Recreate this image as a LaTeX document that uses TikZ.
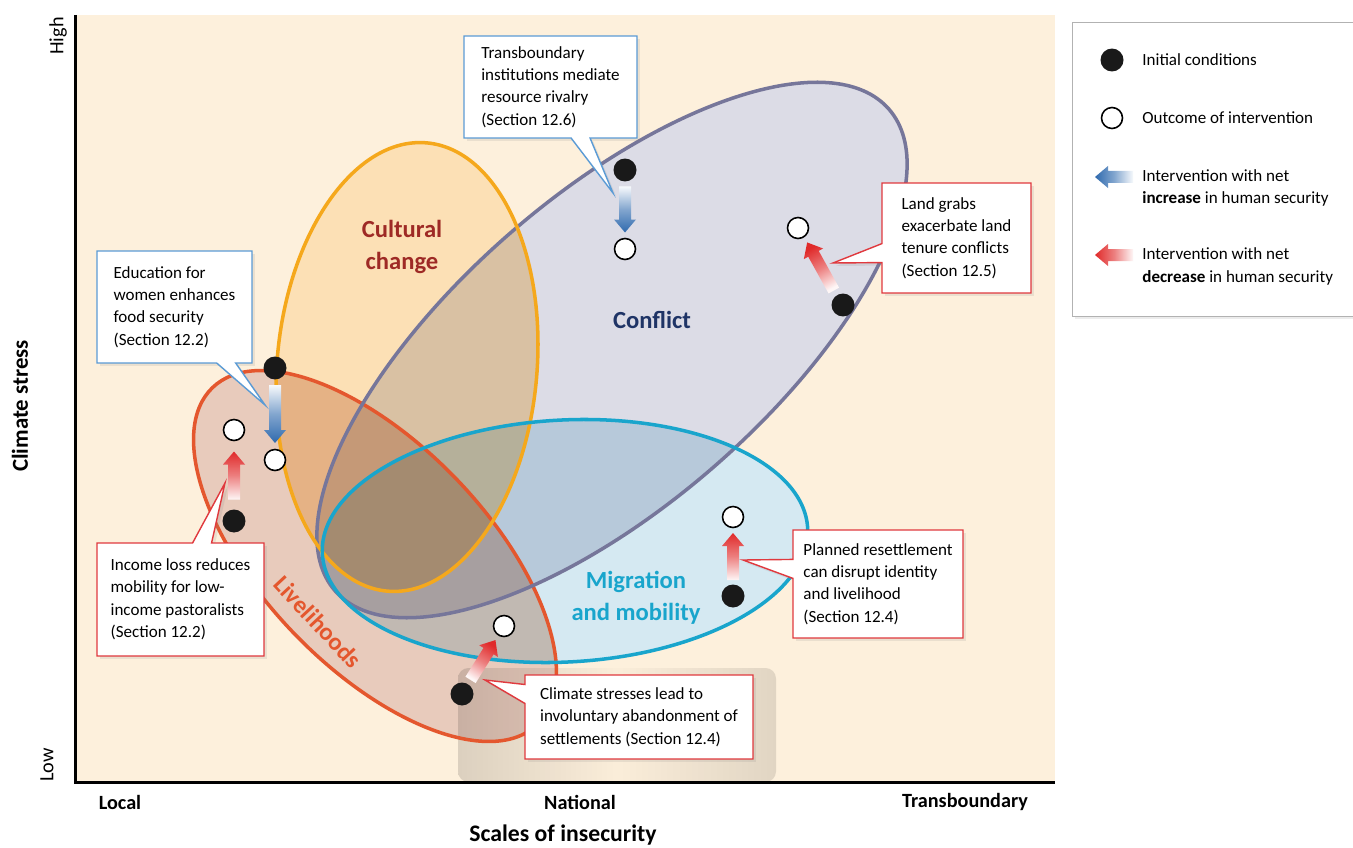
\documentclass[tikz,border=0pt]{standalone}
\usepackage{fontspec}
\setmainfont{Carlito}
\usetikzlibrary{shapes.callouts,shadows,calc}

\definecolor{cream}{HTML}{FDF0DC}
\definecolor{livfill}{HTML}{E8CBBC}
\definecolor{livline}{HTML}{E4572E}
\definecolor{culfill}{HTML}{FCE0B5}
\definecolor{culline}{HTML}{F5A81C}
\definecolor{conffill}{HTML}{DCDCE6}
\definecolor{confline}{HTML}{76769A}
\definecolor{migfill}{HTML}{D5E9F2}
\definecolor{migline}{HTML}{19A5CC}
\definecolor{culttext}{HTML}{9E2A25}
\definecolor{conftext}{HTML}{1F3466}
\definecolor{plusblue}{HTML}{2F6AAE}
\definecolor{minusred}{HTML}{E02A2A}
\definecolor{boxblue}{HTML}{5B9BD5}
\definecolor{boxred}{HTML}{E0393E}

\tikzset{
  zonelabel/.style={font=\fontsize{14}{18}\selectfont\bfseries, align=center},
  initial/.style={circle, fill=black!90, inner sep=0pt, minimum size=0.46cm},
  outcome/.style={circle, draw=black, line width=0.9pt, fill=white, inner sep=0pt, minimum size=0.42cm},
  note/.style={rectangle callout, fill=white, line width=0.8pt, align=left, inner sep=0pt,
    callout pointer width=0.38cm, font=\fontsize{9.7}{12.8}\selectfont,
    drop shadow={opacity=0.15, shadow xshift=0.06cm, shadow yshift=-0.06cm}},
  plusnote/.style={note, draw=boxblue},
  minusnote/.style={note, draw=boxred},
  scalelabel/.style={font=\fontsize{11.5}{13}\selectfont\bfseries},
  keytext/.style={anchor=west, align=left, font=\fontsize{9.7}{12.8}\selectfont, inner sep=0pt}
}

% fading fat arrow: midpoint, direction, length, colour
\newcommand\gradarrow[4]{%
  \pgfmathsetmacro\gaangle{#2-90}
  \shade[top color=#4, bottom color=#4!4!white, middle color=#4!60!white,
    shading angle=\gaangle, shift={#1}, rotate=#2]
    (-#3/2,-6) -- (#3/2-13,-6) -- (#3/2-13,-11) -- (#3/2,0)
    -- (#3/2-13,11) -- (#3/2-13,6) -- (-#3/2,6) -- cycle;
}

\begin{document}
\begin{tikzpicture}[x=0.02cm, y=-0.02cm]
  \useasboundingbox (0,0) rectangle (1353,848);

  % Plot area and axes
  \coordinate (ytop) at (75,15);
  \coordinate (origin) at (75,782);
  \coordinate (xend) at (1055,782);
  \fill[cream] (ytop) rectangle (xend);
  \draw[line width=0.06cm] (ytop) -- (origin) -- (xend);

  \node[rotate=90, font=\fontsize{11.5}{12}\selectfont] (high) at (58,36) {High};
  \node[rotate=90, font=\fontsize{11.5}{12}\selectfont] (low) at (47,765) {Low};
  \node[rotate=90, font=\fontsize{13}{14}\selectfont\bfseries] (ylabel) at (20,406) {Climate stress};
  \node[scalelabel] (local) at (120,802) {Local};
  \node[scalelabel] (national) at (580,802) {National};
  \node[scalelabel] (transb) at (965,802) {Transboundary};
  \node[font=\fontsize{13.5}{15}\selectfont\bfseries] (xlabel) at (563,835) {Scales of insecurity};

  % Zones: white underlay, then multiplied tints, then outlines
  \foreach \cx/\cy/\ang/\ra/\rb in {375/556/-46/234/112, 612/350/41/367/155,
      407/367/85/225/130, 565/541/3/243/121}
    \fill[white, rotate around={\ang:(\cx,\cy)}] (\cx,\cy) ellipse [x radius=\ra, y radius=\rb];
  \foreach \cx/\cy/\ang/\ra/\rb/\fc in {375/556/-46/234/112/livfill, 612/350/41/367/155/conffill,
      407/367/85/225/130/culfill, 565/541/3/243/121/migfill}
    \fill[\fc, blend mode=multiply, rotate around={\ang:(\cx,\cy)}]
      (\cx,\cy) ellipse [x radius=\ra, y radius=\rb];
  % faint grey smudge under the lower callout
  \shade[left color=black!13, right color=black!11, middle color=black!1, blend mode=multiply,
    rounded corners=6] (458,668) rectangle (776,782);
  \foreach \cx/\cy/\ang/\ra/\rb/\lc in {375/556/-46/234/112/livline, 612/350/41/367/155/confline,
      407/367/85/225/130/culline, 565/541/3/243/121/migline}
    \draw[\lc, line width=2pt, rotate around={\ang:(\cx,\cy)}]
      (\cx,\cy) ellipse [x radius=\ra, y radius=\rb];

  \node[zonelabel, text=culttext] (cultural) at (402,247) {Cultural\\change};
  \node[zonelabel, text=conftext] (conflict) at (652,320) {Conflict};
  \node[zonelabel, text=migline] (migration) at (636,598) {Migration\\and mobility};
  \node[zonelabel, text=livline, rotate=-47] (livelihoods) at (318,622) {Livelihoods};

  % Callouts
  \coordinate (trans-tip) at (613,193);
  \coordinate (edu-tip) at (265,405);
  \coordinate (income-tip) at (225,483);
  \coordinate (land-tip) at (833,263);
  \coordinate (resettle-tip) at (743,560);
  \coordinate (climate-tip) at (485,680);

  \node[plusnote, minimum width=3.46cm, minimum height=2.04cm, callout absolute pointer={(trans-tip)}]
    (trans) at (550.5,87) {Transboundary\\institutions mediate\\resource rivalry\\(Section 12.6)};
  \node[plusnote, minimum width=3.1cm, minimum height=2.24cm, callout absolute pointer={(edu-tip)}]
    (edu) at (174.5,307) {Education for\\women enhances\\food security\\(Section 12.2)};
  \node[minusnote, minimum width=3.34cm, minimum height=2.26cm, callout absolute pointer={(income-tip)}]
    (income) at (180.5,599.5) {Income loss reduces\\mobility for low-\\income pastoralists\\(Section 12.2)};
  \node[minusnote, minimum width=2.98cm, minimum height=2.2cm, callout absolute pointer={(land-tip)}]
    (land) at (956.5,238) {Land grabs\\exacerbate land\\tenure conflicts\\(Section 12.5)};
  \node[minusnote, minimum width=3.4cm, minimum height=2.16cm, callout absolute pointer={(resettle-tip)}]
    (resettle) at (878,584) {Planned resettlement\\can disrupt identity\\and livelihood\\(Section 12.4)};
  \node[minusnote, minimum width=4.56cm, minimum height=1.68cm, callout absolute pointer={(climate-tip)}]
    (climate) at (639,717) {Climate stresses lead to\\involuntary abandonment of\\settlements (Section 12.4)};

  % Conditions and outcomes
  \node[initial] (edu-i) at (275,368) {};
  \node[outcome] (edu-o) at (275,460) {};
  \node[initial] (income-i) at (234,521) {};
  \node[outcome] (income-o) at (234,430) {};
  \node[initial] (trans-i) at (625,170) {};
  \node[outcome] (trans-o) at (625,249) {};
  \node[initial] (land-i) at (843,305) {};
  \node[outcome] (land-o) at (798,228) {};
  \node[initial] (resettle-i) at (733,596) {};
  \node[outcome] (resettle-o) at (733,517) {};
  \node[initial] (climate-i) at (462,694) {};
  \node[outcome] (climate-o) at (504,626) {};

  % Interventions
  \gradarrow{($(edu-i)!0.5!(edu-o)$)}{-90}{58}{plusblue}
  \gradarrow{($(trans-i)!0.5!(trans-o)$)}{-90}{46}{plusblue}
  \gradarrow{($(income-i)!0.5!(income-o)$)}{90}{48}{minusred}
  \gradarrow{($(resettle-i)!0.5!(resettle-o)$)}{90}{47}{minusred}
  \gradarrow{($(land-i)!0.5!(land-o)$)}{119}{55}{minusred}
  \gradarrow{($(climate-i)!0.5!(climate-o)$)}{58}{47}{minusred}

  % Key
  \node[draw=black!30, fill=white, line width=0.6pt, anchor=north west, minimum width=6cm,
    minimum height=5.88cm, drop shadow={opacity=0.15, shadow xshift=0.05cm, shadow yshift=-0.05cm}]
    (key) at (1072,22) {};
  \node[initial] (key-i) at (1112,60) {};
  \node[keytext] (key-i-text) at (1142,60) {Initial conditions};
  \node[outcome] (key-o) at (1112,118) {};
  \node[keytext] (key-o-text) at (1142,118) {Outcome of intervention};
  \gradarrow{(1114,177)}{180}{38}{plusblue}
  \node[keytext] (key-plus) at (1142,188) {Intervention with net\\\textbf{increase} in human security};
  \gradarrow{(1114,255)}{180}{38}{minusred}
  \node[keytext] (key-minus) at (1142,266.5) {Intervention with net\\\textbf{decrease} in human security};
\end{tikzpicture}
\end{document}
